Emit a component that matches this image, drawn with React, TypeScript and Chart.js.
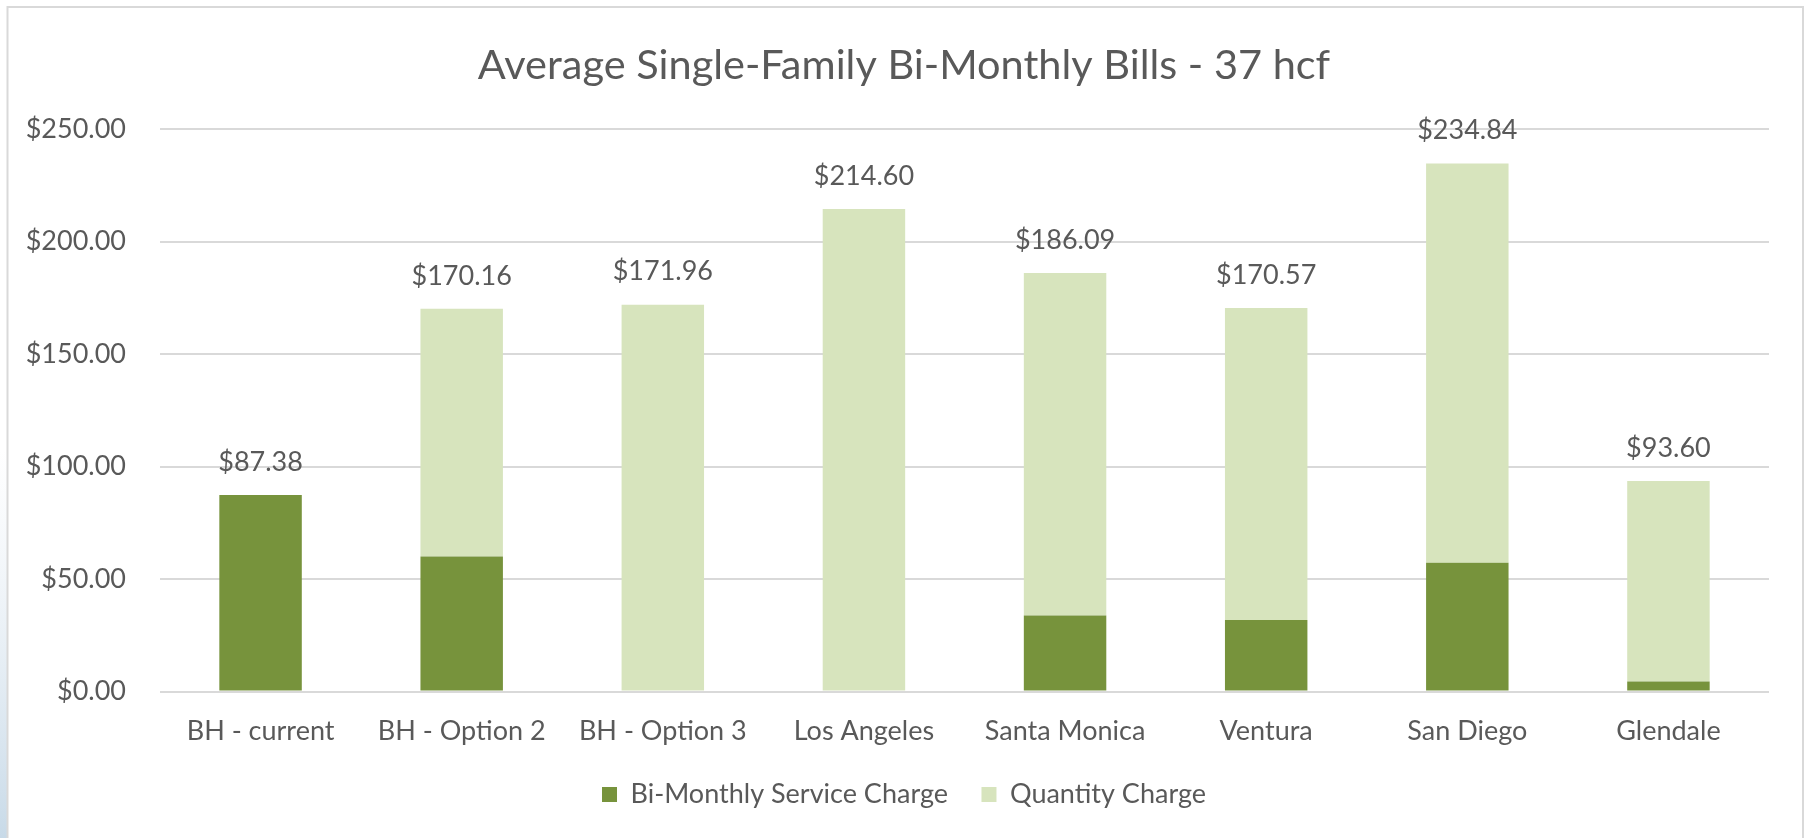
import React, { useEffect, useRef } from "react";
import { Chart, registerables } from "chart.js";

Chart.register(...registerables);

const categories = ["BH - current", "BH - Option 2", "BH - Option 3", "Los Angeles", "Santa Monica", "Ventura", "San Diego", "Glendale"];
const serviceCharge = [87.38, 60.0, 0, 0, 33.8, 31.8, 57.2, 4.5];
const totalBill = [87.38, 170.16, 171.96, 214.6, 186.09, 170.57, 234.84, 93.6];
const quantityCharge = totalBill.map((t, i) => +(t - serviceCharge[i]).toFixed(2));
const yTicks = [0, 50, 100, 150, 200, 250];

const TEXT = "#595959";
const FONT = "Lato";

const framePlugin = {
  id: "frame",
  beforeDraw(chart: any) {
    const { ctx, width, height } = chart;
    ctx.save();
    ctx.fillStyle = "#ffffff";
    ctx.fillRect(0, 0, width, height);
    const g = ctx.createLinearGradient(0, 450, 0, height);
    g.addColorStop(0, "rgba(220,230,240,0)");
    g.addColorStop(1, "rgba(200,218,232,1)");
    ctx.fillStyle = g;
    ctx.fillRect(0, 450, 7, height - 450);
    ctx.strokeStyle = "#d9d9d9";
    ctx.lineWidth = 2;
    ctx.beginPath();
    ctx.moveTo(7.5, height + 2);
    ctx.lineTo(7.5, 7);
    ctx.lineTo(1803, 7);
    ctx.lineTo(1803, height + 2);
    ctx.stroke();
    ctx.restore();
  },
};

const totalsPlugin = {
  id: "totals",
  afterDatasetsDraw(chart: any) {
    const { ctx } = chart;
    const meta = chart.getDatasetMeta(1);
    const y = chart.scales.y;
    ctx.save();
    ctx.font = `27px ${FONT}`;
    ctx.fillStyle = TEXT;
    ctx.textAlign = "center";
    ctx.textBaseline = "middle";
    meta.data.forEach((bar: any, i: number) => {
      const top = y.getPixelForValue(totalBill[i]);
      ctx.fillText("$" + totalBill[i].toFixed(2), bar.x, top - 33);
    });
    ctx.restore();
  },
};

export default function App() {
  const ref = useRef<HTMLCanvasElement>(null);
  useEffect(() => {
    if (!ref.current) return;
    const chart = new Chart(ref.current, {
      type: "bar",
      data: {
        labels: categories,
        datasets: [
          { label: "Bi-Monthly Service Charge", data: serviceCharge, backgroundColor: "#77933C", borderWidth: 0 },
          { label: "Quantity Charge", data: quantityCharge, backgroundColor: "#D7E4BD", borderWidth: 0 },
        ],
      },
      options: {
        animation: false,
        responsive: false,
        maintainAspectRatio: false,
        layout: { padding: { top: 0, left: 0, right: -3, bottom: 20 } },
        datasets: { bar: { barPercentage: 0.41, categoryPercentage: 1 } },
        plugins: {
          title: {
            display: true,
            text: "Average Single-Family Bi-Monthly Bills - 37 hcf",
            color: TEXT,
            font: { family: FONT, size: 41.5, weight: "normal" },
            padding: { top: 41, bottom: 38.5 },
          },
          legend: {
            position: "bottom",
            labels: {
              color: TEXT,
              font: { family: FONT, size: 27 },
              boxWidth: 15,
              boxHeight: 15,
              padding: 33.5,
            },
          },
          tooltip: { enabled: false },
        },
        scales: {
          x: {
            stacked: true,
            afterFit: (s: any) => { s.height = 56; },
            grid: { display: false, drawTicks: false },
            border: { display: false },
            ticks: { color: TEXT, font: { family: FONT, size: 27 }, padding: 23.5 },
          },
          y: {
            stacked: true,
            min: 0,
            max: 250,
            afterBuildTicks: (s: any) => { s.ticks = yTicks.map((v) => ({ value: v })); },
            afterFit: (s: any) => { s.width = 160; },
            grid: { color: "#d9d9d9", lineWidth: 2, drawTicks: false },
            border: { display: false },
            ticks: {
              color: TEXT,
              font: { family: FONT, size: 27 },
              padding: 34,
              callback: (v: any) => "$" + Number(v).toFixed(2),
            },
          },
          spacer: {
            type: "linear",
            position: "right",
            display: true,
            afterFit: (s: any) => { s.width = 39; },
            grid: { display: false, drawTicks: false },
            border: { display: false },
            ticks: { display: false },
          },
        },
      },
      plugins: [framePlugin, totalsPlugin],
    });
    return () => chart.destroy();
  }, []);
  return (
    <div style={{ position: "fixed", left: 0, top: 0, width: 1805, height: 838 }}>
      <canvas ref={ref} width={1805} height={838} style={{ width: 1805, height: 838 }} />
    </div>
  );
}
